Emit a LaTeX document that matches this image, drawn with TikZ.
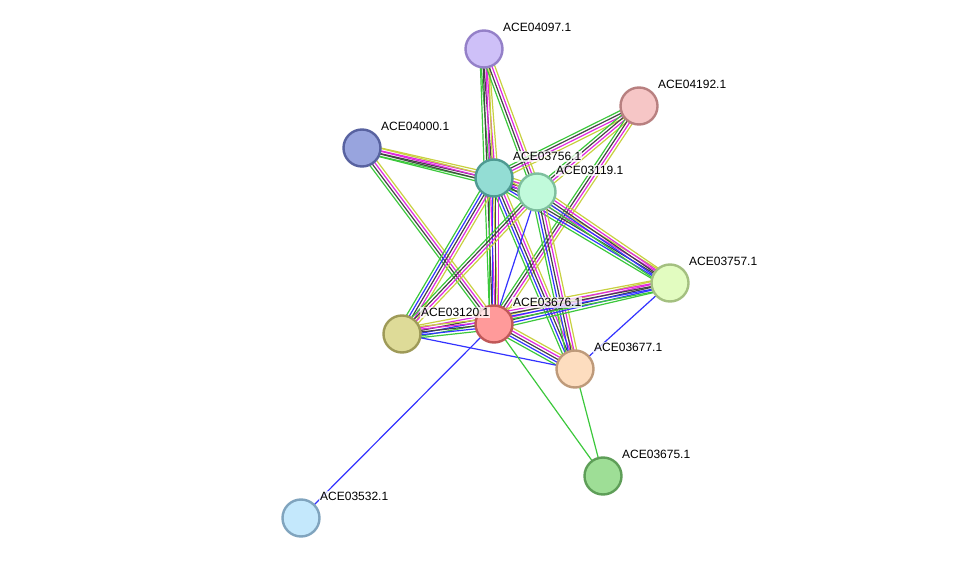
\documentclass[tikz,border=0pt]{standalone}
\usepackage{fontspec}
\setmainfont{Liberation Sans}
\usepackage{tikz}
\usetikzlibrary{calc,backgrounds}
\definecolor{eGreen}{HTML}{3CC83C}
\definecolor{eBlue}{HTML}{3333FF}
\definecolor{eBlack}{HTML}{444444}
\definecolor{eMag}{HTML}{E028E0}
\definecolor{eYel}{HTML}{C8D040}
\newcommand\lnk[3]{%
 \foreach \c [count=\i] in {#3} {\xdef\nlines{\i}}%
 \foreach \c [count=\i] in {#3} {%
  \pgfmathsetmacro\off{(\i-(\nlines+1)/2)*2.8}%
  \draw[e,draw=\c] ($(#1.center)!\off pt!90:(#2.center)$) -- ($(#2.center)!\off pt!-90:(#1.center)$);
 }%
}

\begin{document}
\begin{tikzpicture}[
 x=1pt,y=-1pt,
 nd/.style={circle,minimum size=37pt,inner sep=0pt,line width=2.4pt},
 lb/.style={anchor=base west,inner sep=1pt,fill=white,fill opacity=0.75,text opacity=1,font=\fontsize{12}{14}\selectfont},
 e/.style={line width=1.2pt}
]
\useasboundingbox (0,0) rectangle (975,564);
\node[nd,fill={rgb,255:red,206;green,192;blue,248},draw={rgb,255:red,148;green,128;blue,200}] (n04097) at (484,49) {};
\node[nd,fill={rgb,255:red,246;green,198;blue,198},draw={rgb,255:red,184;green,128;blue,128}] (n04192) at (639,106) {};
\node[nd,fill={rgb,255:red,152;green,164;blue,222},draw={rgb,255:red,88;green,98;blue,160}] (n04000) at (362,148) {};
\node[nd,fill={rgb,255:red,147;green,221;blue,212},draw={rgb,255:red,78;green,154;blue,146}] (n03756) at (494,178) {};
\node[nd,fill={rgb,255:red,193;green,250;blue,219},draw={rgb,255:red,126;green,191;blue,158}] (n03119) at (537,192) {};
\node[nd,fill={rgb,255:red,226;green,252;blue,192},draw={rgb,255:red,164;green,192;blue,128}] (n03757) at (670,283) {};
\node[nd,fill={rgb,255:red,255;green,154;blue,154},draw={rgb,255:red,192;green,88;blue,88}] (n03676) at (494,324) {};
\node[nd,fill={rgb,255:red,222;green,219;blue,152},draw={rgb,255:red,158;green,154;blue,88}] (n03120) at (402,334) {};
\node[nd,fill={rgb,255:red,253;green,221;blue,191},draw={rgb,255:red,190;green,154;blue,122}] (n03677) at (575,369) {};
\node[nd,fill={rgb,255:red,158;green,222;blue,150},draw={rgb,255:red,94;green,158;blue,88}] (n03675) at (603,476) {};
\node[nd,fill={rgb,255:red,196;green,232;blue,252},draw={rgb,255:red,128;green,164;blue,190}] (n03532) at (301,518) {};

\begin{pgfonlayer}{background}
\lnk{n04097}{n03756}{eGreen,eBlack,eMag,eYel}
\lnk{n04097}{n03676}{eGreen,eBlack,eMag,eYel}
\lnk{n04097}{n03119}{eGreen,eBlack,eMag,eYel}
\lnk{n04000}{n03756}{eGreen,eBlack,eMag,eYel}
\lnk{n04000}{n03119}{eGreen,eBlack,eMag,eYel}
\lnk{n04000}{n03676}{eGreen,eBlack,eMag,eYel}
\lnk{n04192}{n03756}{eGreen,eBlack,eMag,eYel}
\lnk{n04192}{n03119}{eGreen,eBlack,eMag,eYel}
\lnk{n04192}{n03676}{eGreen,eBlack,eMag,eYel}
\lnk{n03756}{n03119}{eGreen,eBlue,eBlack,eMag,eYel}
\lnk{n03756}{n03757}{eGreen,eBlue,eBlack,eMag,eYel}
\lnk{n03119}{n03757}{eGreen,eBlue,eBlack,eMag,eYel}
\lnk{n03756}{n03677}{eGreen,eBlue,eBlack,eMag,eYel}
\lnk{n03119}{n03677}{eGreen,eBlue,eBlack,eMag,eYel}
\lnk{n03756}{n03676}{eGreen,eBlue,eBlack,eMag}
\lnk{n03756}{n03120}{eGreen,eBlue,eBlack,eMag,eYel}
\lnk{n03119}{n03120}{eGreen,eBlack,eMag,eYel}
\lnk{n03119}{n03676}{eBlue}
\lnk{n03676}{n03757}{eGreen,eBlue,eBlack,eMag,eYel}
\lnk{n03120}{n03757}{eGreen,eBlue,eBlack,eMag,eYel}
\lnk{n03120}{n03676}{eGreen,eBlue,eBlack,eMag,eYel}
\lnk{n03676}{n03677}{eGreen,eBlue,eBlack,eMag,eYel}
\lnk{n03120}{n03677}{eBlue}
\lnk{n03757}{n03677}{eBlue}
\lnk{n03676}{n03675}{eGreen}
\lnk{n03677}{n03675}{eGreen}
\lnk{n03676}{n03532}{eBlue}
\end{pgfonlayer}

\node[lb] (l04097) at (502,31.5) {ACE04097.1};
\node[lb] (l04192) at (657,88.5) {ACE04192.1};
\node[lb] (l04000) at (380,130.5) {ACE04000.1};
\node[lb] (l03756) at (512,160.5) {ACE03756.1};
\node[lb] (l03119) at (555,174.5) {ACE03119.1};
\node[lb] (l03757) at (688,265.5) {ACE03757.1};
\node[lb] (l03676) at (512,306.5) {ACE03676.1};
\node[lb] (l03120) at (420,316.5) {ACE03120.1};
\node[lb] (l03677) at (593,351.5) {ACE03677.1};
\node[lb] (l03675) at (621,458.5) {ACE03675.1};
\node[lb] (l03532) at (319,500.5) {ACE03532.1};
\end{tikzpicture}
\end{document}
